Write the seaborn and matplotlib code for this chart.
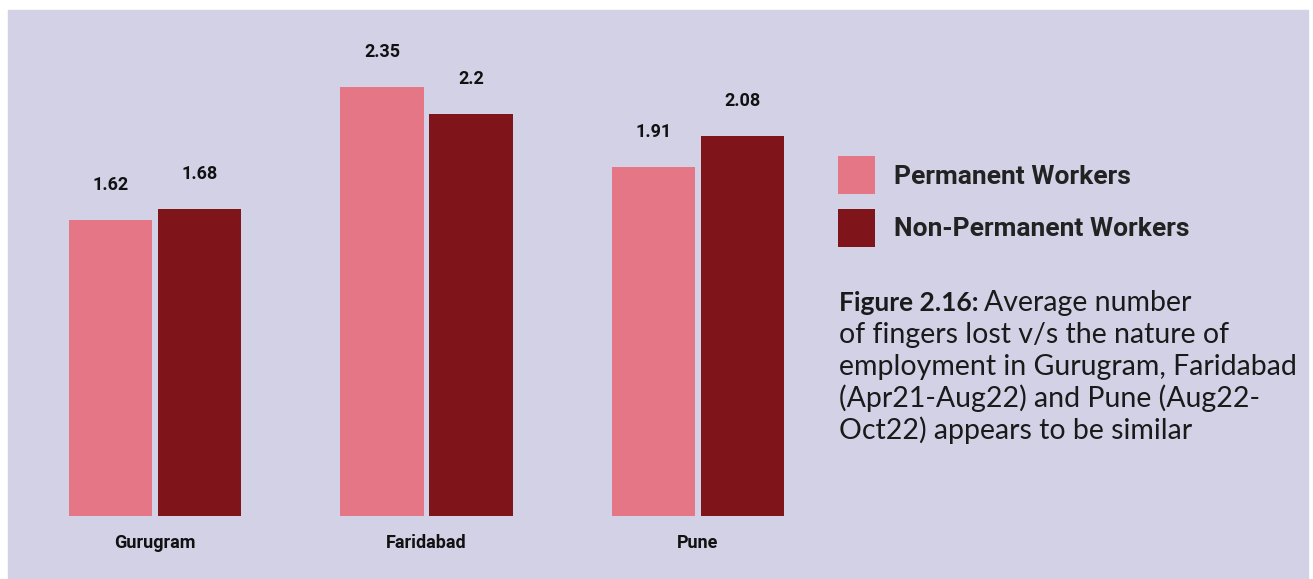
import pandas as pd
import matplotlib.pyplot as plt
import seaborn as sns
from matplotlib.patches import Rectangle

# Data
cities = ['Gurugram', 'Faridabad', 'Pune']
permanent = [1.62, 2.35, 1.91]
non_permanent = [1.68, 2.2, 2.08]
series = ['Permanent Workers', 'Non-Permanent Workers']

caption_bold = 'Figure 2.16:'
caption_lines = ['Average number',
                 'of fingers lost v/s the nature of',
                 'employment in Gurugram, Faridabad',
                 '(Apr21-Aug22) and Pune (Aug22-',
                 'Oct22) appears to be similar']

df = pd.DataFrame({
    'city': cities * 2,
    'value': permanent + non_permanent,
    'type': [series[0]] * len(cities) + [series[1]] * len(cities),
})

# Style
sns.set_style('white')
bg = '#D3D1E6'
colors = ['#E57685', '#80141B']

W, H = 1313, 579
fig = plt.figure(figsize=(W / 100, H / 100), dpi=100, facecolor='white')
fig.patches.append(Rectangle((8 / W, 0), 1300 / W, (H - 10) / H,
                             transform=fig.transFigure, color=bg, zorder=-10))

# axes: baseline at y=516px, left at 8px
ax = fig.add_axes([8 / W, (H - 516) / H, 792 / W, 506 / H])
ax.set_facecolor('none')

sns.barplot(data=df, x='city', y='value', hue='type', palette=colors,
            width=0.656, gap=0.067, saturation=1, linewidth=0, ax=ax)

ax.set_xlim(-0.5414, 2.3757)
ax.set_ylim(0, 2.772)
sns.despine(ax=ax, left=True, bottom=True)
ax.set_yticks([])
ax.set_xlabel('')
ax.set_ylabel('')
ax.tick_params(axis='x', length=0, pad=13)
for lbl in ax.get_xticklabels():
    lbl.set_fontfamily('Roboto')
    lbl.set_fontweight('bold')
    lbl.set_fontsize(13)
    lbl.set_color('#111111')

# value labels
for cont in ax.containers:
    for bar in cont:
        h = bar.get_height()
        ax.annotate(f'{h:g}', (bar.get_x() + bar.get_width() / 2, h),
                    xytext=(0, 25.2), textcoords='offset points',
                    ha='center', va='center', fontsize=13,
                    fontfamily='Roboto', fontweight='bold', color='#111111')

# legend
handles, labels = ax.get_legend_handles_labels()
for hd in handles:
    hd.set_edgecolor('none')
    hd.set_linewidth(0)
ax.get_legend().remove()
fig.legend(handles, labels, loc='upper left',
           bbox_to_anchor=(838 / W, 1 - 156 / H), frameon=False,
           borderpad=0, borderaxespad=0, handlelength=1.4, handleheight=1.85,
           handletextpad=0.72, labelspacing=0.55,
           prop={'family': 'Roboto', 'weight': 'bold', 'size': 19},
           labelcolor='#222222')

# caption
y0 = 311
step = 32
bold = fig.text(839 / W, 1 - y0 / H, caption_bold, fontfamily='Lato',
                fontweight='bold', fontsize=19, color='#1a1a1a', va='baseline')
fig.canvas.draw()
bb = bold.get_window_extent()
fig.text((bb.x1 + 5) / W, 1 - y0 / H, caption_lines[0], fontfamily='Lato',
         fontsize=20.5, color='#1a1a1a', va='baseline')
for i, line in enumerate(caption_lines[1:], start=1):
    fig.text(839 / W, 1 - (y0 + i * step) / H, line, fontfamily='Lato',
             fontsize=20.5, color='#1a1a1a', va='baseline')

plt.savefig('out.png', dpi=100, facecolor='white')
plt.close()
